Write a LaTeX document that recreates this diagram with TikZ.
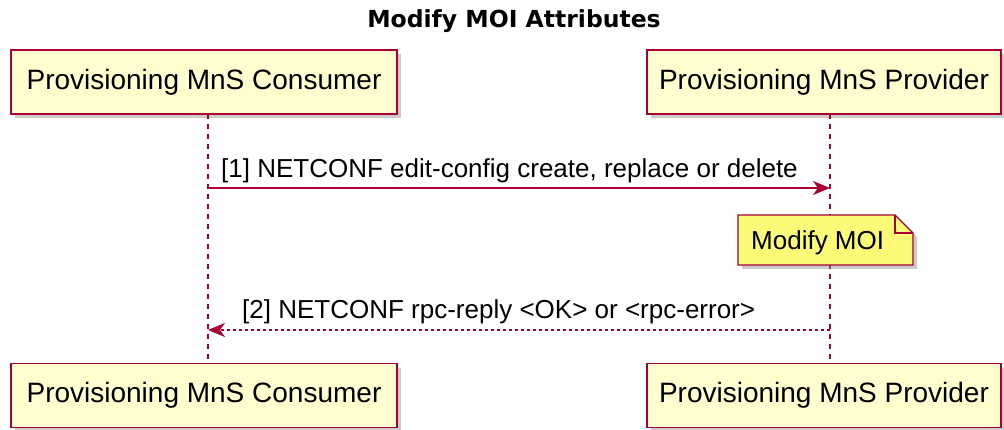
\documentclass[tikz,border=0pt]{standalone}
\usepackage{fontspec}
\setmainfont{Liberation Sans}
\newfontfamily\titlefont{DejaVu Sans}
\usetikzlibrary{arrows.meta,shadows,shapes.misc}
\definecolor{umlred}{HTML}{A80036}
\definecolor{partfill}{HTML}{FEFECE}
\definecolor{notefill}{HTML}{FBFB77}
\tikzset{
  x=1pt, y=-1pt,
  participant/.style={draw=umlred, fill=partfill, line width=1.6pt,
    minimum width=386pt, minimum height=64pt, inner sep=0pt,
    font=\fontsize{28}{32}\selectfont,
    drop shadow={shadow xshift=4pt, shadow yshift=-4pt, fill=black!45, opacity=0.45}},
  lifeline/.style={draw=umlred, line width=1.2pt, dash pattern=on 5pt off 5pt},
  msgtext/.style={font=\fontsize{26}{30}\selectfont, inner sep=0pt, anchor=base west},
  syncmsg/.style={draw=umlred, line width=1.4pt,
    -{Stealth[length=17pt, width=14pt, inset=5pt]}},
  replymsg/.style={draw=umlred, line width=1.4pt, dash pattern=on 3pt off 3pt,
    -{Stealth[length=17pt, width=14pt, inset=5pt]}},
}
\begin{document}
\begin{tikzpicture}
\useasboundingbox (0,0) rectangle (1004,430);

% title
\node[font=\titlefont\bfseries\fontsize{23.5}{28}\selectfont, anchor=base] (title) at (514,28) {Modify MOI Attributes};

% participants, top and bottom
\node[participant] (consTop) at (204,82) {Provisioning MnS Consumer};
\node[participant, minimum width=354pt] (provTop) at (824,82) {Provisioning MnS Provider};
\node[participant] (consBot) at (204,395.5) {Provisioning MnS Consumer};
\node[participant, minimum width=354pt] (provBot) at (824,395.5) {Provisioning MnS Provider};

% lifelines
\coordinate (consA) at (208,114);
\coordinate (consB) at (208,363);
\coordinate (provA) at (830,114);
\coordinate (provB) at (830,363);
\draw[lifeline] (consA) -- (consB);
\draw[lifeline] (provA) -- (provB);

% message 1
\coordinate (m1s) at (208,188);
\coordinate (m1e) at (830,188);
\draw[syncmsg] (m1s) -- (m1e);
\node[msgtext] (m1) at (221,178) {[1] NETCONF edit-config create, replace or delete};

% note on provider
\fill[black!45, opacity=0.45] (742,219) -- (899,219) -- (917,237) -- (917,269) -- (742,269) -- cycle;
\draw[draw=umlred, fill=notefill, line width=1.2pt]
  (738,215) -- (895,215) -- (913,233) -- (913,265) -- (738,265) -- cycle;
\draw[draw=umlred, line width=1.2pt] (895,215) -- (895,233) -- (913,233);
\node[font=\fontsize{26}{30}\selectfont, inner sep=0pt, anchor=base west] (note) at (751,249.5) {Modify MOI};

% message 2
\coordinate (m2s) at (830,330);
\coordinate (m2e) at (208,330);
\draw[replymsg] (m2s) -- (m2e);
\node[msgtext] (m2) at (242,319) {[2] NETCONF rpc-reply <OK> or <rpc-error>};
\end{tikzpicture}
\end{document}
